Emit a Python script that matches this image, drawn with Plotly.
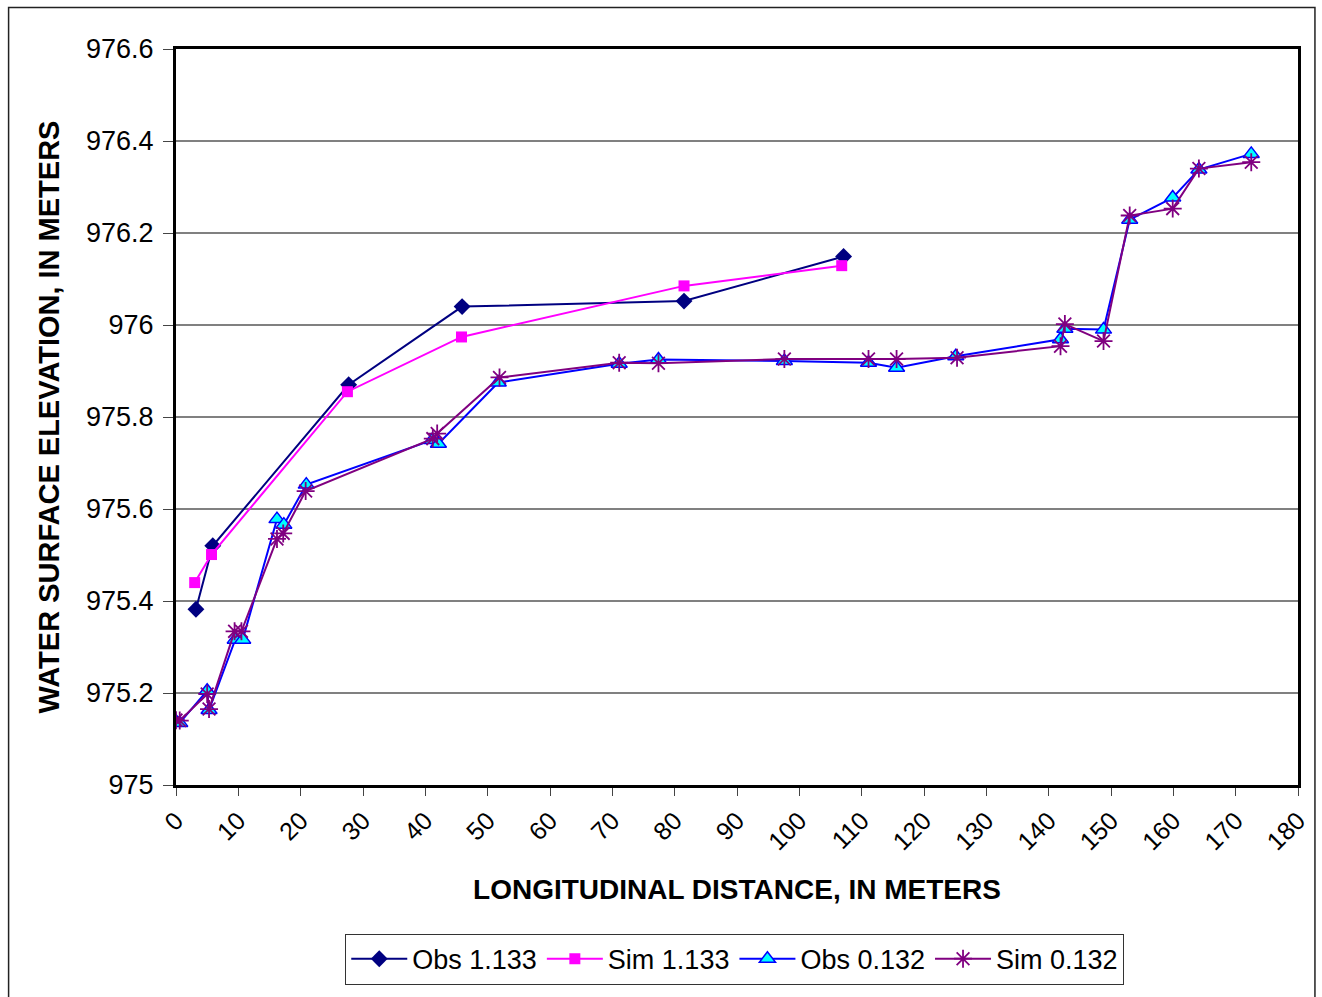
import plotly.graph_objects as go

# ---- data ----
obs_1133_x = [3.2, 5.9, 27.7, 45.9, 81.5, 107.1]
obs_1133_y = [975.382, 975.520, 975.870, 976.040, 976.052, 976.149]

sim_1133_x = [3.0, 5.7, 27.5, 45.8, 81.5, 106.8]
sim_1133_y = [975.440, 975.501, 975.855, 975.974, 976.085, 976.129]

obs_0132_x = [0.0, 0.6, 5.0, 5.3, 9.5, 10.7, 16.2, 17.3, 20.9, 41.1, 42.1, 51.7,
              71.1, 77.4, 97.6, 111.1, 115.6, 125.1, 141.9, 142.6, 148.8, 153.0,
              159.9, 164.1, 172.5]
obs_0132_y = [975.138, 975.135, 975.205, 975.163, 975.316, 975.316, 975.578, 975.566,
              975.653, 975.750, 975.742, 975.875, 975.916, 975.925, 975.922, 975.918,
              975.907, 975.932, 975.969, 975.992, 975.990, 976.229, 976.277, 976.338,
              976.372]

sim_0132_x = [0.0, 0.6, 5.0, 5.3, 9.4, 10.5, 16.2, 17.2, 20.8, 41.2, 41.9, 51.9,
              71.1, 77.4, 97.6, 111.1, 115.6, 125.3, 141.9, 142.6, 148.8, 153.0,
              159.9, 164.1, 172.5]
sim_0132_y = [975.141, 975.140, 975.198, 975.165, 975.334, 975.334, 975.535, 975.547,
              975.639, 975.753, 975.764, 975.886, 975.918, 975.917, 975.926, 975.926,
              975.926, 975.929, 975.954, 976.002, 975.965, 976.238, 976.253, 976.340,
              976.354]

x_ticks = [0, 10, 20, 30, 40, 50, 60, 70, 80, 90, 100, 110, 120, 130, 140, 150, 160, 170, 180]
y_ticks = [975, 975.2, 975.4, 975.6, 975.8, 976, 976.2, 976.4, 976.6]
y_tick_labels = ["975", "975.2", "975.4", "975.6", "975.8", "976", "976.2", "976.4", "976.6"]

FONT = "Liberation Sans, Arial, sans-serif"

fig = go.Figure()
fig.add_trace(go.Scatter(
    x=obs_1133_x, y=obs_1133_y, name="Obs 1.133", mode="lines+markers",
    line=dict(color="#000080", width=2),
    marker=dict(symbol="diamond", size=13, color="#000080")))
fig.add_trace(go.Scatter(
    x=sim_1133_x, y=sim_1133_y, name="Sim 1.133", mode="lines+markers",
    line=dict(color="#FF00FF", width=2),
    marker=dict(symbol="square", size=11, color="#FF00FF")))
fig.add_trace(go.Scatter(
    x=obs_0132_x, y=obs_0132_y, name="Obs 0.132", mode="lines+markers",
    line=dict(color="#0000FF", width=2),
    marker=dict(symbol="triangle-up", size=14, color="#00FFFF",
                line=dict(color="#0000FF", width=1.5))))
fig.add_trace(go.Scatter(
    x=sim_0132_x, y=sim_0132_y, name="Sim 0.132", mode="lines+markers",
    line=dict(color="#800080", width=2),
    marker=dict(symbol="asterisk-open", size=15, color="#800080",
                line=dict(color="#800080", width=1.8))))

# outer chart border (plot area spans x 176..1302, y 49..794 in the 1322x997 page);
# its bottom edge lies below the visible page, as in the reference
fig.add_shape(type="rect", xref="paper", yref="paper",
              x0=-0.1492, x1=1.0151, y0=-0.40, y1=1.0564,
              line=dict(color="#222222", width=1.5), layer="below")

fig.update_layout(
    width=1322, height=997,
    margin=dict(l=176, r=20, t=49, b=203),
    paper_bgcolor="white", plot_bgcolor="white",
    font=dict(family=FONT, color="black"),
    showlegend=True,
    legend=dict(orientation="h", x=0.498, xanchor="center", y=-0.202, yanchor="top",
                font=dict(size=27, family=FONT), bgcolor="white",
                bordercolor="#333333", borderwidth=1, itemwidth=56,
                tracegroupgap=0),
    xaxis=dict(range=[0, 180], tickvals=x_ticks, tickangle=-45,
               tickfont=dict(size=25, family=FONT),
               showgrid=False, zeroline=False,
               showline=True, mirror=True, linecolor="black", linewidth=3,
               ticks="outside", ticklen=8, tickwidth=1, tickcolor="#444",
               title=dict(text="<b>LONGITUDINAL DISTANCE, IN METERS</b>",
                          font=dict(size=28, family=FONT), standoff=26)),
    yaxis=dict(range=[975, 976.6], tickvals=y_ticks, ticktext=y_tick_labels,
               tickfont=dict(size=27, family=FONT), ticklabelstandoff=4,
               showgrid=True, gridcolor="#808080", gridwidth=1.5, zeroline=False,
               showline=True, mirror=True, linecolor="black", linewidth=3,
               ticks="outside", ticklen=10, tickwidth=1, tickcolor="#444",
               title=dict(text="<b>WATER SURFACE ELEVATION, IN METERS</b>",
                          font=dict(size=29, family=FONT), standoff=18)),
)

fig.write_html("out.html", config={"displayModeBar": False},
               post_script="document.body.style.margin='0';document.body.style.overflow='hidden';")
